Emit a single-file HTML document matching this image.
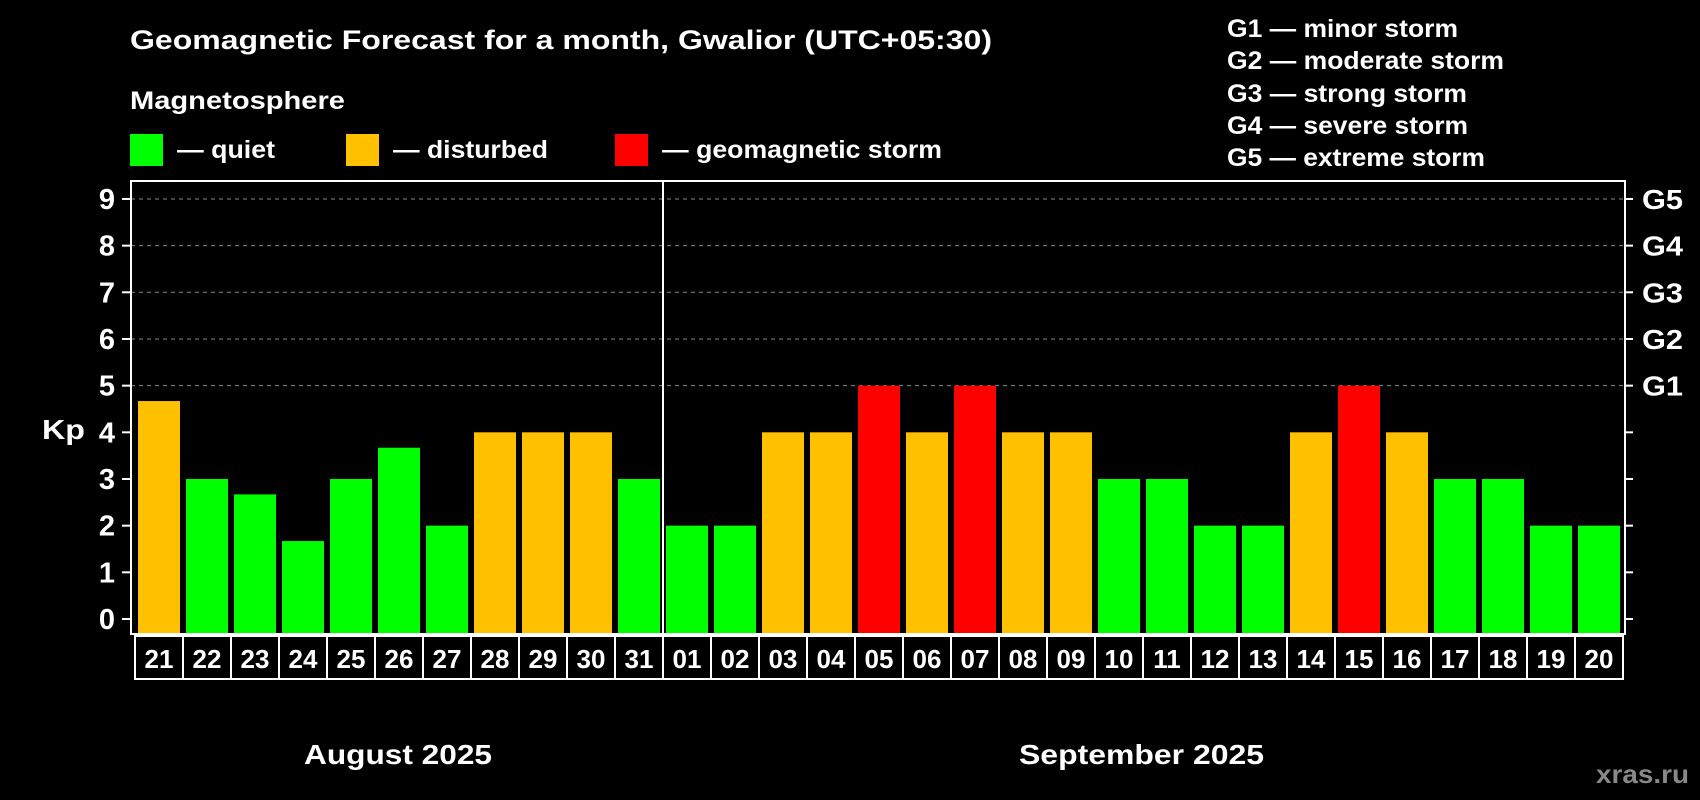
<!DOCTYPE html>
<html><head><meta charset="utf-8"><style>
html,body{margin:0;padding:0;background:#000;}
svg{display:block;font-family:"Liberation Sans",sans-serif;font-weight:bold;}
</style></head><body>
<svg id="c" width="1700" height="800" viewBox="0 0 1700 800">
<text x="130" y="49" fill="#fff" font-size="27" textLength="862" lengthAdjust="spacingAndGlyphs">Geomagnetic Forecast for a month, Gwalior (UTC+05:30)</text>
<text x="130" y="109" fill="#fff" font-size="25" textLength="215" lengthAdjust="spacingAndGlyphs">Magnetosphere</text>
<rect x="130" y="134" width="33" height="32" fill="#00ff00"/>
<text x="177" y="158" fill="#fff" font-size="25" textLength="98" lengthAdjust="spacingAndGlyphs">— quiet</text>
<rect x="346" y="134" width="33" height="32" fill="#ffc000"/>
<text x="393" y="158" fill="#fff" font-size="25" textLength="155" lengthAdjust="spacingAndGlyphs">— disturbed</text>
<rect x="615" y="134" width="33" height="32" fill="#ff0000"/>
<text x="662" y="158" fill="#fff" font-size="25" textLength="280" lengthAdjust="spacingAndGlyphs">— geomagnetic storm</text>
<g fill="#fff" font-size="25">
<text x="1227" y="37" textLength="231" lengthAdjust="spacingAndGlyphs">G1 — minor storm</text>
<text x="1227" y="69" textLength="277" lengthAdjust="spacingAndGlyphs">G2 — moderate storm</text>
<text x="1227" y="102" textLength="240" lengthAdjust="spacingAndGlyphs">G3 — strong storm</text>
<text x="1227" y="134" textLength="241" lengthAdjust="spacingAndGlyphs">G4 — severe storm</text>
<text x="1227" y="166" textLength="258" lengthAdjust="spacingAndGlyphs">G5 — extreme storm</text>
</g>
<text x="42" y="439" fill="#fff" font-size="28" textLength="43" lengthAdjust="spacingAndGlyphs">Kp</text>
<text x="304" y="764" fill="#fff" font-size="28" textLength="188" lengthAdjust="spacingAndGlyphs">August 2025</text>
<text x="1019" y="764" fill="#fff" font-size="28" textLength="245" lengthAdjust="spacingAndGlyphs">September 2025</text>
<text x="1596" y="783" fill="#888" font-size="26" textLength="93" lengthAdjust="spacingAndGlyphs">xras.ru</text>
<g id="plot"></g>
</svg>
<script>
const days = ["21","22","23","24","25","26","27","28","29","30","31","01","02","03","04","05","06","07","08","09","10","11","12","13","14","15","16","17","18","19","20"];
const kpValues = [4.67,3,2.67,1.67,3,3.67,2,4,4,4,3,2,2,4,4,5,4,5,4,4,3,3,2,2,4,5,4,3,3,2,2];
const yTicks = [0,1,2,3,4,5,6,7,8,9];
const gLabels = ["G1","G2","G3","G4","G5"];
const gLevels = [5,6,7,8,9];

const NS="http://www.w3.org/2000/svg";
const g=document.getElementById('plot');
const L=131,R=1625,T=181,B=634,cell0=135,cellW=48;
const y=v=>619-v*46.67;
const x=i=>cell0+i*cellW;
function mk(t,a){const e=document.createElementNS(NS,t);for(const k in a)e.setAttribute(k,a[k]);g.appendChild(e);return e;}
gLevels.forEach((v,i)=>{
 const l=mk('line',{x1:L,x2:R,y1:y(v),y2:y(v),stroke:'#888','stroke-dasharray':'4,4','stroke-width':1});
 
 
 const t=mk('text',{x:1642,y:y(v)+10,fill:'#fff','font-size':28,textLength:41,lengthAdjust:'spacingAndGlyphs'});
 t.textContent=gLabels[i];
 
 
});
yTicks.forEach(v=>{
 const a=mk('line',{x1:122,x2:L,y1:y(v),y2:y(v),stroke:'#fff','stroke-width':2});
 
 
 const b=mk('line',{x1:R,x2:1633,y1:y(v),y2:y(v),stroke:'#fff','stroke-width':2});
 
 
 const t=mk('text',{x:107,y:y(v)+10,fill:'#fff','font-size':29,'text-anchor':'middle'});
 t.textContent=v;
 
 
});
kpValues.forEach((v,i)=>{
 const c=v>=5?'#ff0000':(v>=4?'#ffc000':'#00ff00');
 const r=mk('rect',{x:x(i)+3,y:y(v),width:42,height:B-y(v),fill:c});
 
 
 const bx=mk('rect',{x:x(i),y:636,width:cellW,height:43,fill:'none',stroke:'#fff','stroke-width':2});
 
 
 const t=mk('text',{x:x(i)+cellW/2,y:668,fill:'#fff','font-size':26,'text-anchor':'middle'});
 t.textContent=days[i];
 
 
});
const f=mk('rect',{x:L,y:T,width:R-L,height:B-T,fill:'none',stroke:'#fff','stroke-width':2});


const d=days.indexOf("01");
const m=mk('line',{x1:x(d),x2:x(d),y1:T,y2:B,stroke:'#fff','stroke-width':2});


</script>
</body></html>
